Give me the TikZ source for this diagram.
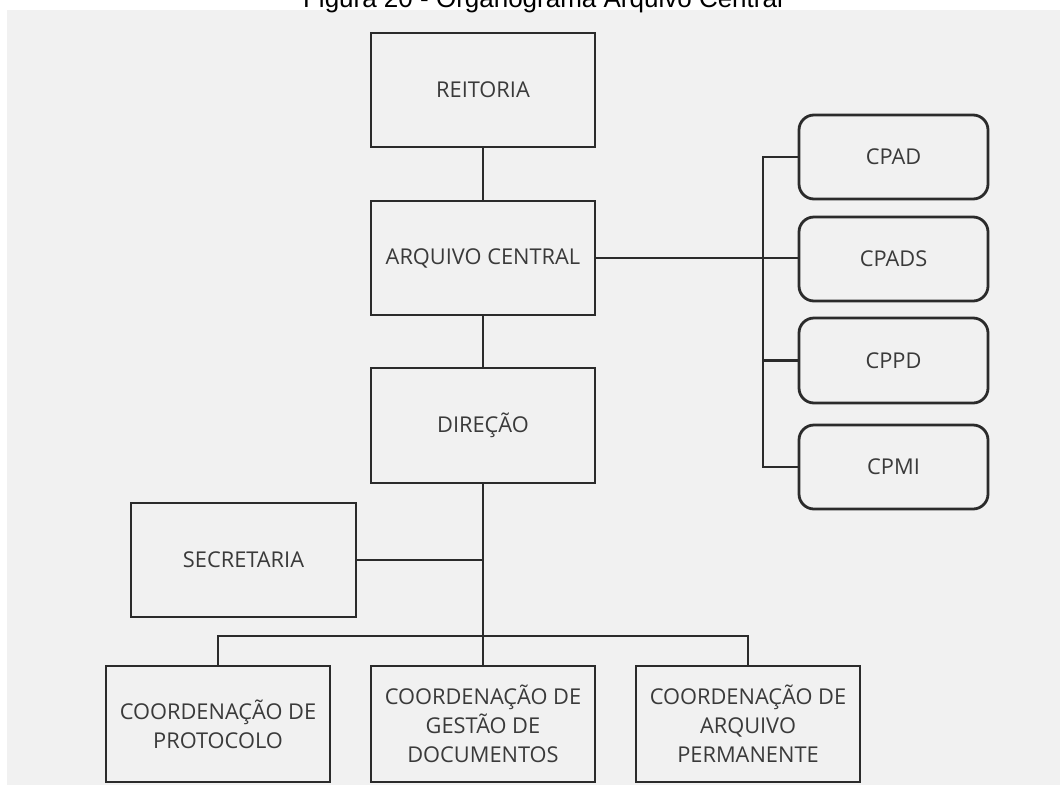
\documentclass[tikz,border=0pt]{standalone}
\usepackage{fontspec}
\setmainfont{Open Sans}
\newfontfamily\titlefont{Liberation Sans}
\definecolor{bgc}{HTML}{F1F1F1}
\definecolor{linec}{HTML}{2B2B2B}
\definecolor{textc}{HTML}{3A3A3A}
\begin{document}
\begin{tikzpicture}[x=1pt,y=-1pt,
  box/.style={draw=linec, line width=2.8pt, rectangle, outer sep=0pt, inner sep=0pt,
    minimum width=224pt, minimum height=114pt, align=center, text=textc,
    font=\fontsize{21.8}{29}\selectfont},
  rbox/.style={box, rounded corners=15pt, minimum width=189pt, minimum height=84pt},
  conn/.style={draw=linec, line width=2.3pt}]
\useasboundingbox (0,0) rectangle (1060,785);
\fill[bgc] (7,10) rectangle (1060,785);
\node[anchor=base, font=\titlefont\fontsize{26}{30}\selectfont, text=black] (title) at (543,7) {Figura 20 - Organograma Arquivo Central};

\node[box] (reitoria) at (483,90) {REITORIA};
\node[box] (arquivo) at (483,258) {ARQUIVO CENTRAL};
\node[box, minimum height=115pt] (direcao) at (483,425.5) {DIREÇÃO};
\node[box, minimum width=225pt] (secretaria) at (243.5,560) {SECRETARIA};
\node[box, minimum height=116pt] (protocolo) at (218,724) {COORDENAÇÃO DE\\PROTOCOLO};
\node[box, minimum height=116pt] (gestao) at (483,724) {COORDENAÇÃO DE\\GESTÃO DE\\DOCUMENTOS};
\node[box, minimum height=116pt] (permanente) at (748,724) {COORDENAÇÃO DE\\ARQUIVO\\PERMANENTE};

\node[rbox] (cpad) at (893.5,157) {CPAD};
\node[rbox] (cpads) at (893.5,259) {CPADS};
\node[rbox, minimum height=85pt] (cppd) at (893.5,360.5) {CPPD};
\node[rbox] (cpmi) at (893.5,467) {CPMI};

\draw[conn] (reitoria.south) -- (arquivo.north);
\draw[conn] (arquivo.south) -- (direcao.north);
\draw[conn] (arquivo.east) -- (arquivo.east -| cpads.west);
\draw[conn] (cpad.west) -- ++(-36,0) |- (cpmi.west);
\draw[conn] (cppd.west) -- ++(-36,0);
\draw[conn] (direcao.south) -- (gestao.north);
\draw[conn] (secretaria.east) -- (secretaria.east -| direcao.south);
\draw[conn] (protocolo.north) -- ++(0,-30) -| (permanente.north);
\end{tikzpicture}
\end{document}
